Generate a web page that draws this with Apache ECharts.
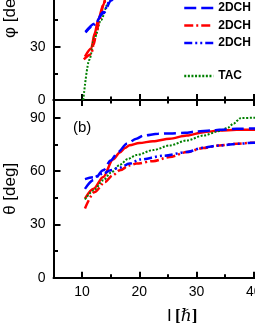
<!DOCTYPE html>
<html>
<head>
<meta charset="utf-8">
<script src="https://cdn.jsdelivr.net/npm/echarts@6.0.0/dist/echarts.min.js"></script>
<style>
html,body{margin:0;padding:0;background:#fff;}
#c{width:255px;height:330px;}
</style>
</head>
<body>
<div id="c"></div>
<script>
// ---- tick values ----
const xMajorTicks = [10, 20, 30, 40, 50];
const xMinorTicks = [15, 25, 35, 45];
const yMajorTicks = [0, 30, 60, 90];
const yMinorTicks = [15, 45, 75];

// ---- panel (a): phi [deg] ----
const phRedSolidI = [10.5, 11.6, 12.2, 12.8, 13.7, 14.3, 15.5, 17, 20, 25, 30, 40, 45];
const phRedSolid  = [24.4, 29, 37.5, 45, 53.4, 60, 68, 76, 84, 88, 89, 90, 90];
const phRedDdI    = [10.3, 11.6, 12, 12.5, 13, 13.8, 14.5, 16, 18, 22, 30, 40, 45];
const phRedDd     = [22.8, 25.7, 31, 38, 45, 54, 62, 71, 79, 86, 89, 90, 90];
const phBlueDashI = [10.6, 12.2, 13.7, 15.1, 16.5, 18, 21, 25, 30, 40, 45];
const phBlueDash  = [38.4, 43, 48.8, 56, 63, 70, 78, 84, 88, 90, 90];
const phBlueDdI   = [10.6, 12.2, 13.7, 15, 16.5, 18, 21, 25, 30, 40, 45];
const phBlueDd    = [38, 42.5, 49.5, 56.5, 63.5, 70, 78, 84, 88, 90, 90];
const phTacI      = [10.2, 11.25, 12.2, 13.3, 14.5, 15.5, 17, 20, 25, 30, 40, 45];
const phTac       = [0, 22.5, 35, 45, 54, 60, 67, 76, 84, 88, 90, 90];

// ---- panel (b): theta [deg] ----
const thRedSolidI = [10.5, 12, 13.7, 15.4, 16.6, 17.5, 18.3, 20, 22.4, 25.3, 28.3, 31.2, 34, 37, 40, 42];
const thRedSolid  = [44.5, 50, 56.6, 66.5, 70.5, 73, 74.5, 75.8, 76.8, 78.2, 80, 81.9, 82.8, 83.2, 83.3, 83.4];
const thBlueDashI = [10.5, 12, 13.7, 15, 16.3, 17.8, 19.5, 20.7, 23.3, 25.3, 28, 30, 32.6, 34, 37, 40, 42];
const thBlueDash  = [50, 55, 60.4, 66, 70.7, 75.4, 78.2, 80, 81, 81.2, 81.5, 82.3, 82.8, 83.2, 83.8, 84, 84];
const thTacI      = [10.5, 12, 13.7, 15, 16.6, 18, 19.5, 22.4, 25.3, 28.3, 31.2, 34, 35.5, 36.5, 37.7, 40, 42];
const thTac       = [44, 49, 54.8, 59, 63.5, 66.8, 69, 71.8, 74.4, 77.2, 80, 82.5, 84.5, 86.8, 89.8, 90, 90];
const thBlueDdI   = [10.5, 12, 13.7, 15, 16.6, 18.3, 20.1, 24.2, 28.3, 31.2, 34, 37.6, 40, 42];
const thBlueDd    = [55.5, 56.5, 58.6, 60.5, 62, 64.2, 66.5, 68.6, 70.7, 73.2, 74.4, 75.4, 76, 76.2];
const thRedDdI    = [10.5, 12.2, 14, 15.3, 16.6, 18.3, 19.5, 22.4, 25.3, 28.3, 31.2, 34, 37, 40, 42];
const thRedDd     = [39, 48.2, 53.8, 57.5, 60.4, 63.2, 64.2, 65.6, 67.9, 70.7, 73, 74.4, 75.4, 76, 76.2];

const zip = (a, b) => a.map((v, i) => [v, b[i]]);

const FONT = '"Liberation Sans", Arial, sans-serif';
const BLUE = '#0000ff', RED = '#ff0000', GREEN = '#008000';
const DASH = [12, 5], DASHDOT = [9, 3, 2, 3], DASHDOTDOT = [8, 3, 2, 3, 2, 3], DOT = [2, 1.6];

function xAxisDef(grid, pos, ticks, len, showLine, labels) {
  return {
    type: 'value', gridIndex: grid, position: pos, min: 5, max: 50,
    splitLine: { show: false },
    axisLine: { show: showLine, onZero: false, lineStyle: { color: '#000', width: 2 } },
    axisTick: { show: true, inside: true, length: len, customValues: ticks, lineStyle: { color: '#000', width: 2 } },
    axisLabel: labels ? { show: true, customValues: labels, color: '#000', fontSize: 14, fontFamily: FONT, margin: 7 } : { show: false }
  };
}
function yAxisDef(grid, ticks, len, showLine, labels, name) {
  const a = {
    type: 'value', gridIndex: grid, position: 'left', min: 0, max: 100,
    splitLine: { show: false },
    axisLine: { show: showLine, onZero: false, lineStyle: { color: '#000', width: 2 } },
    axisTick: { show: true, inside: true, length: len, customValues: ticks, lineStyle: { color: '#000', width: 2 } },
    axisLabel: labels ? { show: true, customValues: labels, color: '#000', fontSize: 14, fontFamily: FONT, margin: 8 } : { show: false }
  };
  if (name) {
    a.name = name; a.nameLocation = 'middle'; a.nameGap = 29;
    a.nameTextStyle = { color: '#000', fontSize: 17, fontFamily: FONT };
  }
  return a;
}

function line(name, grid, xs, ys, color, dash, width) {
  return {
    type: 'line', name: name, xAxisIndex: grid === 0 ? 0 : 2, yAxisIndex: grid === 0 ? 0 : 2,
    data: zip(xs, ys), symbol: 'none', showSymbol: false, smooth: 0.3, smoothMonotone: 'x',
    lineStyle: { color: color, width: width, type: dash, cap: 'butt' },
    itemStyle: { color: color }
  };
}

const chart = echarts.init(document.getElementById('c'), null, { renderer: 'canvas' });
chart.setOption({
  animation: false,
  backgroundColor: '#fff',
  grid: [
    { left: 53.5, right: -55.9, top: -77.7, bottom: 230, containLabel: false, outerBoundsMode: 'none' },
    { left: 53.5, right: -55.9, top: 100, bottom: 52.3, containLabel: false, outerBoundsMode: 'none' }
  ],
  xAxis: [
    xAxisDef(0, 'bottom', xMajorTicks, 6, true, null),
    xAxisDef(0, 'bottom', xMinorTicks, 3.5, false, null),
    Object.assign(xAxisDef(1, 'bottom', xMajorTicks, 6, true, xMajorTicks), {
      name: '{a|I} {b|[}{c|ℏ}{b|]}', nameLocation: 'middle', nameGap: 30,
      nameTextStyle: { rich: {
        a: { fontSize: 17, fontFamily: FONT, color: '#000' },
        b: { fontSize: 17, fontFamily: '"Liberation Serif", serif', fontWeight: 'bold', color: '#000' },
        c: { fontSize: 17, fontFamily: '"DejaVu Serif", "Liberation Serif", serif', fontStyle: 'italic', color: '#000' }
      } }
    }),
    xAxisDef(1, 'bottom', xMinorTicks, 3.5, false, null),
    xAxisDef(1, 'top', xMajorTicks, 6, true, null),
    xAxisDef(1, 'top', xMinorTicks, 3.5, false, null)
  ],
  yAxis: [
    yAxisDef(0, yMajorTicks, 7, true, yMajorTicks, 'φ [deg]'),
    yAxisDef(0, yMinorTicks, 4.5, false, null, null),
    yAxisDef(1, yMajorTicks, 7, true, yMajorTicks, 'θ [deg]'),
    yAxisDef(1, yMinorTicks, 4.5, false, null, null)
  ],
  legend: [
    {
      data: ['2DCH-a', '2DCH-b', '2DCH-c'], orient: 'vertical', left: 183, top: 1, padding: 0,
      itemWidth: 29, itemHeight: 14, itemGap: 3.5, selectedMode: false,
      formatter: n => n.replace(/-.*$/, ''),
      itemStyle: { opacity: 0 }, lineStyle: { width: 2.5 },
      textStyle: { color: '#000', fontSize: 12, fontWeight: 'bold', fontFamily: FONT, lineHeight: 14 }
    },
    {
      data: ['TAC'], orient: 'vertical', left: 183, top: 69, padding: 0,
      itemWidth: 29, itemHeight: 14, selectedMode: false,
      itemStyle: { opacity: 0 }, lineStyle: { width: 2.5 },
      textStyle: { color: '#000', fontSize: 12, fontWeight: 'bold', fontFamily: FONT, lineHeight: 14 }
    }
  ],
  graphic: [
    { type: 'text', left: 73, top: 120, style: { text: '(b)', font: '15px "Liberation Sans", Arial, sans-serif', fill: '#000' } }
  ],
  series: [
    line('TPSM', 0, phRedSolidI, phRedSolid, RED, 'solid', 2.5),
    line('TAC', 0, phTacI, phTac, GREEN, DOT, 2),
    line('2DCH-b', 0, phRedDdI, phRedDd, RED, DASHDOT, 2.5),
    line('2DCH-a', 0, phBlueDashI, phBlueDash, BLUE, DASH, 2.5),
    line('2DCH-c', 0, phBlueDdI, phBlueDd, BLUE, DASHDOTDOT, 2.5),
    line('TPSM', 1, thRedSolidI, thRedSolid, RED, 'solid', 2.5),
    line('TAC', 1, thTacI, thTac, GREEN, DOT, 2),
    line('2DCH-b', 1, thRedDdI, thRedDd, RED, DASHDOT, 2.5),
    line('2DCH-a', 1, thBlueDashI, thBlueDash, BLUE, DASH, 2.5),
    line('2DCH-c', 1, thBlueDdI, thBlueDd, BLUE, DASHDOTDOT, 2.5)
  ]
});
</script>
</body>
</html>
